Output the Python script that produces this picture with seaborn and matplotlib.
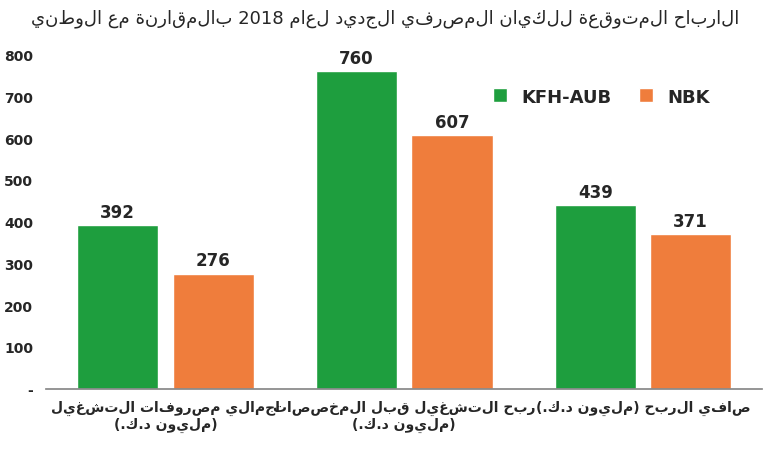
import numpy as np
import pandas as pd
import matplotlib
matplotlib.use("Agg")
import matplotlib.pyplot as plt
import seaborn as sns

title = "الارباح المتوقعة للكيان المصرفي الجديد لعام 2018 بالمقارنة مع الوطني"
categories = ["اجمالي مصروفات التشغيل\n(مليون د.ك.)",
              "ربح التشغيل قبل المخصصات\n(مليون د.ك.)",
              "صافي الربح (مليون د.ك.)"]
kfh_aub = [392, 760, 439]
nbk = [276, 607, 371]
series = ["KFH-AUB", "NBK"]
colors = ["#1e9e3e", "#ef7d3c"]


def rtl(s):
    # no Arabic shaping available: at least put the letters in visual order
    swap = str.maketrans("()", ")(")
    out = []
    for line in s.split("\n"):
        words = [p if p.isascii() and p.isalnum() else p[::-1].translate(swap)
                 for p in line.split(" ")]
        out.append(" ".join(words[::-1]))
    return "\n".join(out)


labels = [rtl(c) for c in categories]
df = pd.DataFrame({
    "cat": labels * 2,
    "series": [series[0]] * 3 + [series[1]] * 3,
    "value": kfh_aub + nbk,
})

sns.set_theme(style="white")
plt.rcParams["font.family"] = ["DejaVu Sans"]
fig, ax = plt.subplots(figsize=(7.7, 4.64), dpi=100)
sns.barplot(data=df, x="cat", y="value", hue="series", palette=colors,
            width=0.8, gap=0.15, ax=ax, saturation=1)

for cont in ax.containers:
    ax.bar_label(cont, fmt="%d", padding=3, fontsize=12, fontweight="bold")

ax.set_ylim(0, 800)
ax.set_yticks(range(0, 801, 100))
ax.set_yticklabels(["-"] + [str(v) for v in range(100, 801, 100)],
                   fontsize=10, fontweight="bold")
ax.set_xlabel("")
ax.set_ylabel("")
ax.tick_params(axis="x", labelsize=10, length=0, pad=8)
for lab in ax.get_xticklabels():
    lab.set_fontweight("bold")
for s in ["top", "right", "left"]:
    ax.spines[s].set_visible(False)
ax.spines["bottom"].set_color("#888888")

ax.legend(title=None, loc="upper right", bbox_to_anchor=(0.95, 0.95), ncol=2,
          frameon=False, prop={"size": 13, "weight": "bold"},
          handlelength=0.8, handleheight=0.8, columnspacing=1.5)
fig.suptitle(rtl(title), fontsize=13, y=0.98)
plt.subplots_adjust(left=0.06, right=0.99, top=0.88, bottom=0.16)
plt.savefig("out.png", dpi=100)
